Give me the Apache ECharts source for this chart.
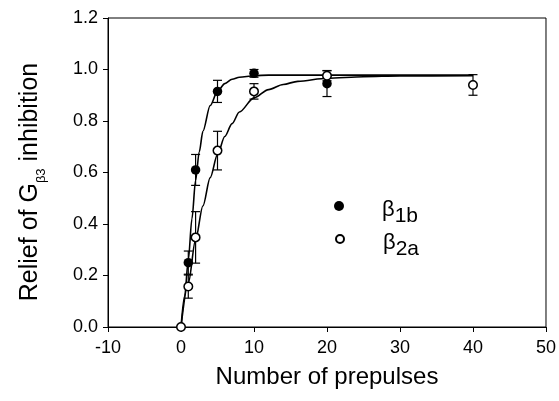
<!DOCTYPE html>
<html>
<head>
<meta charset="utf-8">
<script src="https://cdn.jsdelivr.net/npm/echarts@6/dist/echarts.min.js"></script>
<style>
html,body{margin:0;padding:0;background:#fff;}
#chart{width:559px;height:401px;}
</style>
</head>
<body>
<div id="chart"></div>
<script>
// Measured points (number of prepulses)
const b1bX = [1, 2, 5, 10, 20];
const b1bValues = [0.25, 0.61, 0.915, 0.985, 0.945];
const b1bErrors = [0.045, 0.06, 0.043, 0.015, 0.05];

const b2aX = [0, 1, 2, 5, 10, 20, 40];
const b2aValues = [0, 0.157, 0.348, 0.685, 0.915, 0.976, 0.94];
const b2aErrors = [0, 0.045, 0.1, 0.075, 0.03, 0.02, 0.04];

// Fitted curves
const fit1X = [0, 0.5, 1, 1.5, 2, 2.5, 3, 4, 5, 6, 7, 8, 10, 12, 15, 20, 30, 40];
const fit1Y = [0, 0.12, 0.26, 0.42, 0.57, 0.68, 0.76, 0.86, 0.915, 0.945, 0.962, 0.97, 0.976, 0.978, 0.978, 0.978, 0.978, 0.978];
const fit2X = [0, 1, 2, 3, 4, 5, 6, 7, 8, 10, 12, 14, 16, 20, 25, 30, 40];
const fit2Y = [0, 0.17, 0.34, 0.47, 0.58, 0.67, 0.74, 0.79, 0.835, 0.89, 0.922, 0.942, 0.954, 0.966, 0.972, 0.975, 0.976];

const xTicks = [-10, 0, 10, 20, 30, 40, 50];
const yTicks = [0, 0.2, 0.4, 0.6, 0.8, 1.0, 1.2];

const FONT = '"Liberation Sans", Arial, sans-serif';

function zip(xs, ys) { return xs.map((x, i) => [x, ys[i]]); }
function zip3(xs, ys, es) { return xs.map((x, i) => [x, ys[i], es[i]]); }

function errRender(params, api) {
  const x = api.value(0), y = api.value(1), e = api.value(2);
  if (!e) return null;
  const top = api.coord([x, y + e]);
  const bot = api.coord([x, y - e]);
  const hw = 4.5;
  const st = { stroke: '#000', lineWidth: 1.2 };
  return {
    type: 'group',
    children: [
      { type: 'line', shape: { x1: top[0], y1: top[1], x2: bot[0], y2: bot[1] }, style: st },
      { type: 'line', shape: { x1: top[0] - hw, y1: top[1], x2: top[0] + hw, y2: top[1] }, style: st },
      { type: 'line', shape: { x1: bot[0] - hw, y1: bot[1], x2: bot[0] + hw, y2: bot[1] }, style: st }
    ]
  };
}

const legendRich = {
  g: { fontFamily: FONT, fontSize: 22, lineHeight: 22, verticalAlign: 'top', color: '#000' },
  s: { fontFamily: FONT, fontSize: 21, lineHeight: 22, verticalAlign: 'top', padding: [7, 0, 0, 0], color: '#000' }
};

const chart = echarts.init(document.getElementById('chart'), null, { renderer: 'canvas' });
chart.setOption({
  animation: false,
  backgroundColor: '#fff',
  textStyle: { fontFamily: FONT },
  grid: { left: 108, right: 13, top: 18, bottom: 74, show: true, borderColor: '#000', borderWidth: 1 },
  legend: [
    {
      data: ['b1b'], left: 334, top: 199, padding: 0, itemWidth: 10, itemHeight: 10, itemGap: 0,
      formatter: () => '{g|β}{s|1b}',
      textStyle: { padding: [8, 0, 0, 33], rich: legendRich }
    },
    {
      data: ['b2a'], left: 335, top: 232, padding: 0, itemWidth: 8, itemHeight: 8, itemGap: 0,
      formatter: () => '{g|β}{s|2a}',
      textStyle: { padding: [8, 0, 0, 34], rich: legendRich }
    }
  ],
  xAxis: {
    type: 'value', min: xTicks[0], max: xTicks[xTicks.length - 1], interval: 10,
    name: 'Number of prepulses', nameLocation: 'middle', nameGap: 38,
    nameTextStyle: { fontFamily: FONT, fontSize: 24, color: '#000' },
    axisLine: { onZero: false, lineStyle: { color: '#000', width: 1 } },
    axisTick: { show: true, inside: false, length: 5, lineStyle: { color: '#000' } },
    axisLabel: { fontFamily: FONT, fontSize: 18, color: '#000', margin: 12 },
    splitLine: { show: false }
  },
  yAxis: {
    type: 'value', min: yTicks[0], max: yTicks[yTicks.length - 1], interval: 0.2,
    axisLine: { show: true, onZero: false, lineStyle: { color: '#000', width: 1 } },
    axisTick: { show: true, inside: false, length: 5, lineStyle: { color: '#000' } },
    axisLabel: { fontFamily: FONT, fontSize: 18, color: '#000', margin: 10, formatter: v => v.toFixed(1) },
    splitLine: { show: false }
  },
  graphic: [
    {
      type: 'text', x: 30, y: 182, rotation: Math.PI / 2,
      style: {
        text: '{a|Relief of G}{s|β3}{a| inhibition}',
        align: 'center', verticalAlign: 'middle',
        rich: {
          a: { fontFamily: FONT, fontSize: 25, lineHeight: 25, verticalAlign: 'top', color: '#000' },
          s: { fontFamily: FONT, fontSize: 13, lineHeight: 13, padding: [17, 0, 0, 0], verticalAlign: 'top', color: '#000' }
        }
      }
    }
  ],
  series: [
    {
      type: 'line', data: zip(fit1X, fit1Y), showSymbol: false, smooth: 0.3, smoothMonotone: 'x',
      lineStyle: { color: '#000', width: 1.6 }, z: 2, silent: true
    },
    {
      type: 'line', data: zip(fit2X, fit2Y), showSymbol: false, smooth: 0.3, smoothMonotone: 'x',
      lineStyle: { color: '#000', width: 1.6 }, z: 2, silent: true
    },
    {
      type: 'custom', renderItem: errRender, data: zip3(b1bX, b1bValues, b1bErrors), z: 3, silent: true
    },
    {
      type: 'custom', renderItem: errRender, data: zip3(b2aX, b2aValues, b2aErrors), z: 3, silent: true
    },
    {
      name: 'b1b', type: 'scatter', data: zip(b1bX, b1bValues), symbol: 'circle', symbolSize: 9.5,
      itemStyle: { color: '#000', opacity: 1 }, z: 4
    },
    {
      name: 'b2a', type: 'scatter', data: zip(b2aX, b2aValues), symbol: 'circle', symbolSize: 8.5,
      itemStyle: { color: '#fff', borderColor: '#000', borderWidth: 1.5, opacity: 1 }, z: 5
    }
  ]
});
</script>
</body>
</html>
